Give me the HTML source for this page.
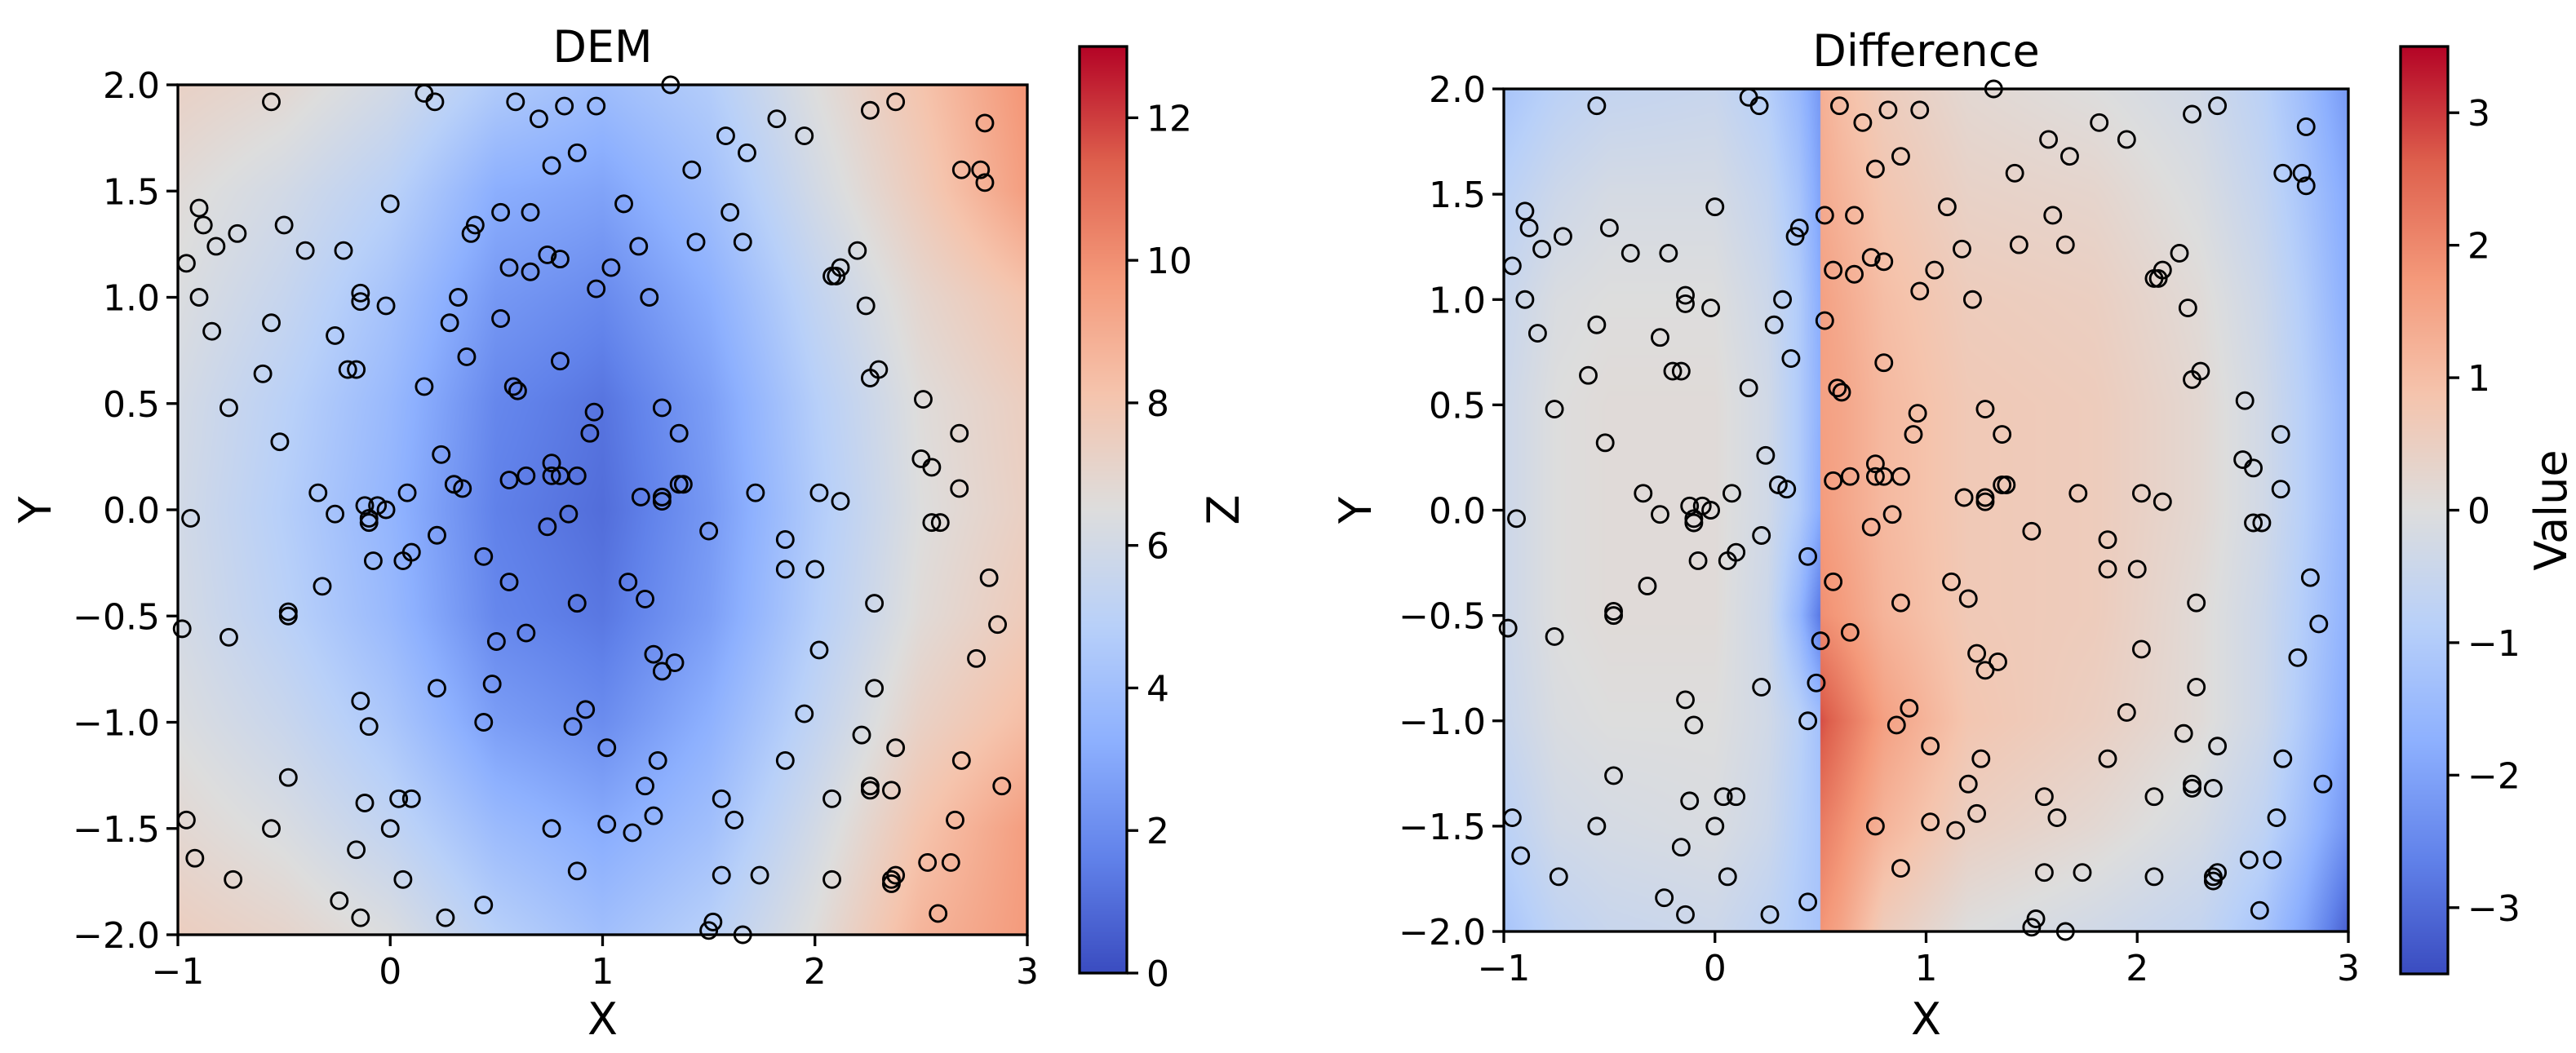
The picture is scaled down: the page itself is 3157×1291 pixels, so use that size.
<!DOCTYPE html>
<html><head><meta charset="utf-8">
<style>
html,body{margin:0;padding:0;background:#fff;}
#root{position:relative;width:3157px;height:1291px;overflow:hidden;background:#fff;font-family:"DejaVu Sans","Liberation Sans",sans-serif;}
canvas{position:absolute;}
svg{position:absolute;left:0;top:0;}
</style></head>
<body>
<div id="root">
<canvas id="demCanvas"></canvas>
<canvas id="difCanvas"></canvas>
<canvas id="cb1Canvas"></canvas>
<canvas id="cb2Canvas"></canvas>
<svg id="ov" width="3157" height="1291"></svg>
</div>
<script>
// ---- data ----
const ptsX=[-0.56,0.16,0.21,0.59,0.70,0.82,0.97,1.32,1.82,1.95,2.26,2.38,2.80,2.69,2.78,2.80,0.76,0.88,1.42,1.58,1.68,-0.90,-0.88,-0.82,-0.72,-0.50,-0.40,-0.22,0.00,0.38,0.40,0.52,0.66,1.10,1.17,1.44,1.60,1.66,2.20,2.12,2.08,2.10,-0.96,-0.90,-0.84,-0.56,-0.26,-0.14,-0.14,-0.02,0.28,0.32,0.52,0.56,0.66,0.74,0.80,1.04,0.97,1.22,2.24,-0.60,-0.20,-0.16,0.16,0.36,0.58,0.60,0.80,-0.76,-0.52,0.24,0.30,0.34,0.56,0.64,0.76,0.76,0.80,0.88,0.94,0.96,1.28,1.36,1.36,1.38,1.18,1.28,1.28,1.72,2.02,2.12,2.26,2.30,2.51,2.68,2.50,2.55,2.68,2.55,2.59,-0.94,-0.34,-0.26,-0.12,-0.06,-0.02,-0.10,-0.10,0.08,0.22,0.44,0.56,0.74,0.84,-0.08,0.06,0.10,-0.32,-0.48,-0.48,-0.98,-0.76,0.50,0.64,0.88,1.12,1.20,1.50,1.86,1.86,2.00,2.28,2.82,2.86,2.76,2.02,1.24,1.28,1.34,0.22,0.48,-0.14,-0.10,0.44,0.86,0.92,1.02,1.26,1.20,1.95,2.22,2.28,2.38,2.69,2.88,1.86,-0.48,-0.12,0.04,0.10,-0.96,-0.92,-0.56,-0.74,-0.24,-0.16,-0.14,0.00,0.06,0.26,0.44,0.76,0.88,1.02,1.14,1.24,1.56,1.62,1.56,1.74,1.52,1.50,1.66,2.08,2.08,2.26,2.26,2.36,2.36,2.38,2.36,2.53,2.64,2.66,2.58];
const ptsY=[1.92,1.96,1.92,1.92,1.84,1.90,1.90,2.00,1.84,1.76,1.88,1.92,1.82,1.60,1.60,1.54,1.62,1.68,1.60,1.76,1.68,1.42,1.34,1.24,1.30,1.34,1.22,1.22,1.44,1.30,1.34,1.40,1.40,1.44,1.24,1.26,1.40,1.26,1.22,1.14,1.10,1.10,1.16,1.00,0.84,0.88,0.82,1.02,0.98,0.96,0.88,1.00,0.90,1.14,1.12,1.20,1.18,1.14,1.04,1.00,0.96,0.64,0.66,0.66,0.58,0.72,0.58,0.56,0.70,0.48,0.32,0.26,0.12,0.10,0.14,0.16,0.22,0.16,0.16,0.16,0.36,0.46,0.48,0.36,0.12,0.12,0.06,0.06,0.04,0.08,0.08,0.04,0.62,0.66,0.52,0.36,0.24,0.20,0.10,-0.06,-0.06,-0.04,0.08,-0.02,0.02,0.02,0.00,-0.04,-0.06,0.08,-0.12,-0.22,-0.34,-0.08,-0.02,-0.24,-0.24,-0.20,-0.36,-0.48,-0.50,-0.56,-0.60,-0.62,-0.58,-0.44,-0.34,-0.42,-0.10,-0.14,-0.28,-0.28,-0.44,-0.32,-0.54,-0.70,-0.66,-0.68,-0.76,-0.72,-0.84,-0.82,-0.90,-1.02,-1.00,-1.02,-0.94,-1.12,-1.18,-1.30,-0.96,-1.06,-0.84,-1.12,-1.18,-1.30,-1.18,-1.26,-1.38,-1.36,-1.36,-1.46,-1.64,-1.50,-1.74,-1.84,-1.60,-1.92,-1.50,-1.74,-1.92,-1.86,-1.50,-1.70,-1.48,-1.52,-1.44,-1.36,-1.46,-1.72,-1.72,-1.94,-1.98,-2.00,-1.36,-1.74,-1.30,-1.32,-1.32,-1.74,-1.72,-1.76,-1.66,-1.66,-1.46,-1.90];
// DEM grid (rows y=2..-2, cols x=-1..3 step 0.5)
const demGX=[-1,-0.5,0,0.5,1,1.5,2,2.5,3];
const demGY=[2,1.5,1,0.5,0,-0.5,-1,-1.5,-2];
const demZ=[
[7.3,6.9,6.0,4.6,3.9,4.7,6.5,8.1,9.9],
[6.7,6.0,5.0,3.2,2.8,4.0,6.0,7.7,9.6],
[6.4,5.5,4.2,2.4,1.9,3.2,5.3,7.0,8.1],
[6.1,5.0,3.7,1.8,1.2,2.6,4.8,6.6,7.5],
[6.0,4.8,3.5,1.6,1.0,2.4,4.6,6.5,7.4],
[6.1,5.0,3.7,1.8,1.3,2.6,4.8,6.7,7.7],
[6.4,5.6,4.4,2.6,2.0,3.3,5.3,7.3,8.4],
[6.9,6.3,5.3,3.8,3.1,4.0,6.0,8.1,9.6],
[7.5,7.1,6.4,4.9,4.0,4.9,6.6,8.7,9.7]];
// Difference grid
const difGX=[-1,-0.75,-0.5,0,0.25,0.4,0.499,0.501,0.6,0.8,1.2,1.8,2.3,2.6,2.8,3];
const difGY=[2,1.5,1,0.5,0,-0.5,-1,-1.5,-2];
const difV=[
[-1.2,-0.8,-0.6,-0.5,-0.9,-1.5,-2.2,1.3,1.0,0.6,0.2,0.0,-0.3,-0.8,-1.4,-2.2],
[-0.8,-0.4,-0.2,-0.2,-0.6,-1.2,-2.0,1.4,1.2,0.8,0.4,0.3,-0.1,-0.6,-1.2,-1.9],
[-0.5,-0.1,0.0,0.0,-0.4,-1.0,-1.8,1.6,1.4,1.0,0.6,0.5,0.1,-0.4,-1.0,-1.8],
[-0.4,0.0,0.1,0.1,-0.3,-1.0,-1.7,1.6,1.5,1.1,0.7,0.6,0.2,-0.3,-0.9,-1.6],
[-0.4,0.0,0.1,0.1,-0.3,-1.0,-1.8,1.7,1.5,1.1,0.7,0.6,0.2,-0.3,-0.9,-1.6],
[-0.4,0.0,0.1,0.1,-0.4,-1.6,-2.8,1.9,1.7,1.2,0.7,0.6,0.1,-0.4,-1.0,-1.7],
[-0.5,-0.1,0.0,0.0,-0.3,-0.8,-1.3,2.8,2.4,1.6,0.8,0.5,0.1,-0.4,-1.1,-1.9],
[-0.8,-0.3,-0.2,-0.1,-0.4,-0.9,-1.2,2.2,1.9,1.2,0.5,0.2,-0.2,-0.7,-1.4,-2.3],
[-1.2,-0.7,-0.5,-0.4,-0.7,-1.0,-1.2,1.8,1.5,0.6,0.0,-0.3,-0.6,-1.2,-2.0,-3.2]];
const xTicks=[-1,0,1,2,3];
const yTicks=[-2.0,-1.5,-1.0,-0.5,0.0,0.5,1.0,1.5,2.0];
const cb1Ticks=[0,2,4,6,8,10,12];
const cb2Ticks=[-3,-2,-1,0,1,2,3];

// ---- colormap ----
const cmS=[0,0.125,0.25,0.375,0.5,0.625,0.75,0.875,1];
const cmC=[[58,76,192],[97,130,234],[141,176,254],[184,208,249],[221,221,221],[245,196,173],[244,153,122],[222,96,77],[180,4,38]];
function cmap(t){t=Math.max(0,Math.min(1,t));let i=Math.min(7,Math.floor(t*8));const f=(t-cmS[i])*8;const a=cmC[i],b=cmC[i+1];return [a[0]+(b[0]-a[0])*f,a[1]+(b[1]-a[1])*f,a[2]+(b[2]-a[2])*f];}
function seg(arr,v,desc){const n=arr.length;for(let i=0;i<n-1;i++){const a=arr[i],b=arr[i+1];if(desc?(v<=a&&v>=b):(v>=a&&v<=b))return [i,(v-a)/(b-a)];}return desc?(v>arr[0]?[0,0]:[n-2,1]):(v<arr[0]?[0,0]:[n-2,1]);}
function interp(gx,gy,g,x,y){const [i,fx]=seg(gx,x,false);const [j,fy]=seg(gy,y,true);const v00=g[j][i],v01=g[j][i+1],v10=g[j+1][i],v11=g[j+1][i+1];return (v00*(1-fx)+v01*fx)*(1-fy)+(v10*(1-fx)+v11*fx)*fy;}

const svg=document.getElementById('ov');
const NS='http://www.w3.org/2000/svg';
function mk(tag,attrs,parent){const e=document.createElementNS(NS,tag);for(const k in attrs)e.setAttribute(k,attrs[k]);(parent||svg).appendChild(e);return e;}

function drawHeat(cv,L,T,W,H,gx,gy,g,vmin,vmax){
  cv.style.left=L+'px';cv.style.top=T+'px';cv.width=W;cv.height=H;
  const ctx=cv.getContext('2d');const img=ctx.createImageData(W,H);
  for(let py=0;py<H;py++){const y=2-(py+0.5)/H*4;
    for(let px=0;px<W;px++){const x=-1+(px+0.5)/W*4;
      const v=interp(gx,gy,g,x,y);const c=cmap((v-vmin)/(vmax-vmin));const k=(py*W+px)*4;
      img.data[k]=c[0];img.data[k+1]=c[1];img.data[k+2]=c[2];img.data[k+3]=255;}}
  ctx.putImageData(img,0,0);
}
function drawCbar(cv,L,T,W,H){cv.style.left=L+'px';cv.style.top=T+'px';cv.width=W;cv.height=H;const ctx=cv.getContext('2d');
  for(let py=0;py<H;py++){const c=cmap(1-(py+0.5)/H);ctx.fillStyle='rgb('+c.map(Math.round).join(',')+')';ctx.fillRect(0,py,W,1);}}

function panel(o){
  const g=mk('g',{});
  
  
  const sx=v=>o.L+(v+1)/4*(o.R-o.L);
  const sy=v=>o.B-(v+2)/4*(o.B-o.T);
  const pg=mk('g',{},g);
  
  
  for(let i=0;i<ptsX.length;i++){
    const c=mk('circle',{cx:sx(ptsX[i]),cy:sy(ptsY[i]),r:10,fill:'none',stroke:'#000','stroke-width':2.9},pg);
    
    
  }
  const fr=mk('rect',{x:o.L,y:o.T,width:o.R-o.L,height:o.B-o.T,fill:'none',stroke:'#000','stroke-width':3.3},g);
  
  
  xTicks.forEach(v=>{const x=sx(v);mk('line',{x1:x,x2:x,y1:o.B,y2:o.B+14,stroke:'#000','stroke-width':3.3},g);
    const t=mk('text',{x:x,y:o.B+60,'text-anchor':'middle','font-size':44},g);t.textContent=v<0?'\u2212'+Math.abs(v):String(v);
    
    });
  yTicks.forEach(v=>{const y=sy(v);mk('line',{x1:o.L-14,x2:o.L,y1:y,y2:y,stroke:'#000','stroke-width':3.3},g);
    const t=mk('text',{x:o.L-22,y:y+16,'text-anchor':'end','font-size':44},g);t.textContent=(v<0?'\u2212':'')+Math.abs(v).toFixed(1);
    
    });
  const tt=mk('text',{x:(o.L+o.R)/2,y:o.T-28,'text-anchor':'middle','font-size':54},g);tt.textContent=o.title;
  
  
  const xl=mk('text',{x:(o.L+o.R)/2,y:1268,'text-anchor':'middle','font-size':54},g);xl.textContent='X';
  
  
  const cy=(o.T+o.B)/2;
  const yl=mk('text',{x:o.yl,y:cy,'text-anchor':'middle','font-size':54,transform:'rotate(-90 '+o.yl+' '+cy+')'},g);yl.textContent='Y';
  
  
  const cbg=mk('g',{},g);
  
  
  mk('rect',{x:o.cL,y:o.cT,width:o.cR-o.cL,height:o.cB-o.cT,fill:'none',stroke:'#000','stroke-width':3.3},cbg);
  o.cTicks.forEach(v=>{const y=o.cB-(v-o.vmin)/(o.vmax-o.vmin)*(o.cB-o.cT);
    mk('line',{x1:o.cR,x2:o.cR+14,y1:y,y2:y,stroke:'#000','stroke-width':3.3},cbg);
    const t=mk('text',{x:o.cR+24,y:y+16,'font-size':44},cbg);t.textContent=(v<0?'\u2212':'')+Math.abs(v);
    
    });
  const ccy=(o.cT+o.cB)/2;
  const cl=mk('text',{x:o.clx,y:ccy,'text-anchor':'middle','font-size':54,transform:'rotate(-90 '+o.clx+' '+ccy+')'},cbg);cl.textContent=o.clabel;
  
  
}

const P1={name:'dem-panel',title:'DEM',L:218,R:1259,T:104,B:1146,yl:62,cL:1323,cR:1381,cT:57,cB:1193,vmin:0,vmax:13,cTicks:cb1Ticks,clabel:'Z',clx:1518};
const P2={name:'difference-panel',title:'Difference',L:1843,R:2878,T:109,B:1142,yl:1680,cL:2942,cR:3000,cT:57,cB:1194,vmin:-3.5,vmax:3.5,cTicks:cb2Ticks,clabel:'Value',clx:3145};
drawHeat(document.getElementById('demCanvas'),P1.L,P1.T,P1.R-P1.L,P1.B-P1.T,demGX,demGY,demZ,0,13);
drawHeat(document.getElementById('difCanvas'),P2.L,P2.T,P2.R-P2.L,P2.B-P2.T,difGX,difGY,difV,-3.5,3.5);
drawCbar(document.getElementById('cb1Canvas'),P1.cL,P1.cT,P1.cR-P1.cL,P1.cB-P1.cT);
drawCbar(document.getElementById('cb2Canvas'),P2.cL,P2.cT,P2.cR-P2.cL,P2.cB-P2.cT);
panel(P1);panel(P2);
</script>
</body></html>
